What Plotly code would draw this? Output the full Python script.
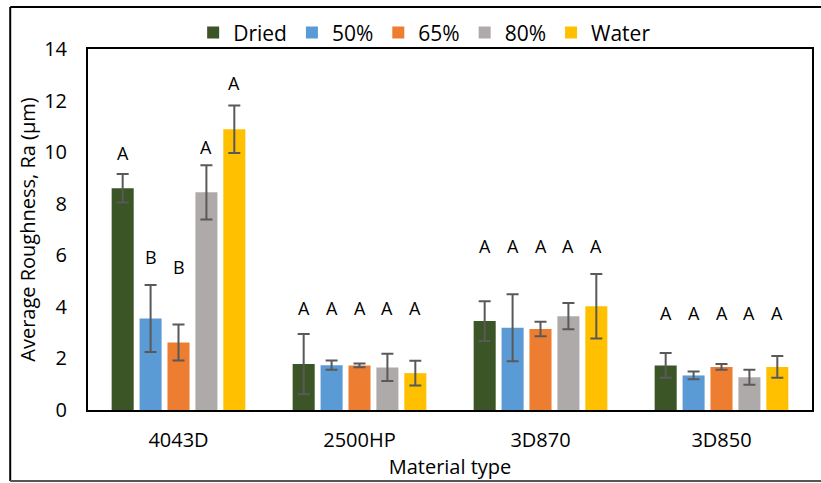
import plotly.graph_objects as go

categories = ["4043D", "2500HP", "3D870", "3D850"]
series_names = ["Dried", "50%", "65%", "80%", "Water"]
colors = ["#3B5526", "#5B9BD5", "#ED7D31", "#AEAAAA", "#FFC000"]

# mean Ra values per series (order of categories)
dried = [8.60, 1.78, 3.45, 1.73]
p50 = [3.55, 1.74, 3.19, 1.34]
p65 = [2.62, 1.73, 3.14, 1.67]
p80 = [8.44, 1.65, 3.64, 1.27]
water = [10.89, 1.43, 4.02, 1.67]

# error bar half-lengths
dried_err = [0.55, 1.17, 0.77, 0.48]
p50_err = [1.30, 0.18, 1.30, 0.15]
p65_err = [0.70, 0.07, 0.28, 0.11]
p80_err = [1.05, 0.53, 0.51, 0.29]
water_err = [0.92, 0.48, 1.25, 0.42]

# significance letters and the heights they sit at
dried_letters = ["A", "A", "A", "A"]
p50_letters = ["B", "A", "A", "A"]
p65_letters = ["B", "A", "A", "A"]
p80_letters = ["A", "A", "A", "A"]
water_letters = ["A", "A", "A", "A"]
dried_letter_y = [9.96, 3.95, 6.36, 3.76]
p50_letter_y = [5.93, 3.95, 6.36, 3.76]
p65_letter_y = [5.54, 3.95, 6.36, 3.76]
p80_letter_y = [10.2, 3.95, 6.36, 3.76]
water_letter_y = [12.7, 3.95, 6.36, 3.76]

y_ticks = [0, 2, 4, 6, 8, 10, 12, 14]

values = [dried, p50, p65, p80, water]
errors = [dried_err, p50_err, p65_err, p80_err, water_err]
letters = [dried_letters, p50_letters, p65_letters, p80_letters, water_letters]
letter_ys = [dried_letter_y, p50_letter_y, p65_letter_y, p80_letter_y, water_letter_y]

FONT = "Open Sans"
W, H = 821, 483
ML, MR, MT, MB = 88, 7, 49, 73
plot_w = W - ML - MR
bargap = 0.229
bargroupgap = 0.21

fig = go.Figure()
for name, vals, errs, col in zip(series_names, values, errors, colors):
    fig.add_trace(go.Bar(
        name=name, x=categories, y=vals, marker=dict(color=col, line=dict(width=0)),
        error_y=dict(type="data", array=errs, visible=True, color="#595959", thickness=2, width=6),
    ))

# letter annotations positioned over each bar
cat_w = plot_w / len(categories)
slot = cat_w * (1 - bargap) / len(series_names)
annotations = []
for i, (lets, lys) in enumerate(zip(letters, letter_ys)):
    shift = (i - (len(series_names) - 1) / 2) * slot
    for c, l, ly in zip(categories, lets, lys):
        annotations.append(dict(
            x=c, y=ly, xref="x", yref="y", text=l, showarrow=False, xshift=shift,
            yanchor="middle", font=dict(family=FONT, size=18, color="#000000"),
        ))

fig.update_layout(
    width=W, height=H,
    margin=dict(l=ML, r=MR, t=MT, b=MB),
    paper_bgcolor="white", plot_bgcolor="white",
    barmode="group", bargap=bargap, bargroupgap=bargroupgap,
    font=dict(family=FONT, size=20, color="#000000"),
    legend=dict(orientation="h", x=0.465, xanchor="center", y=1.045, yanchor="middle",
                font=dict(family=FONT, size=21, color="#000000"), traceorder="normal",
                itemwidth=30, bgcolor="rgba(0,0,0,0)"),
    annotations=annotations,
    xaxis=dict(showline=True, linecolor="black", linewidth=2, mirror=True, showgrid=False,
               ticks="", tickfont=dict(size=20), ticklabelstandoff=11,
               title=dict(text="Material type", font=dict(size=20), standoff=5)),
    yaxis=dict(range=[0, 14], tickvals=y_ticks, showline=True, linecolor="black", linewidth=2,
               mirror=True, showgrid=False, zeroline=False, ticks="", tickfont=dict(size=20),
               ticklabelstandoff=15,
               title=dict(text="Average Roughness, Ra (μm)", font=dict(size=20), standoff=3)),
    shapes=[
        dict(type="line", xref="paper", yref="paper", x0=(10 - ML) / plot_w, x1=1.02,
             y0=(H - MB - 7) / (H - MT - MB), y1=(H - MB - 7) / (H - MT - MB),
             line=dict(color="black", width=2)),
        dict(type="line", xref="paper", yref="paper", x0=(10 - ML) / plot_w, x1=(10 - ML) / plot_w,
             y0=(H - MB - 7) / (H - MT - MB), y1=(H - MB - 481) / (H - MT - MB),
             line=dict(color="black", width=2)),
        dict(type="line", xref="paper", yref="paper", x0=(10 - ML) / plot_w, x1=1.02,
             y0=(H - MB - 481) / (H - MT - MB), y1=(H - MB - 481) / (H - MT - MB),
             line=dict(color="#555555", width=2)),
    ],
)

fig.write_html("out.html")
